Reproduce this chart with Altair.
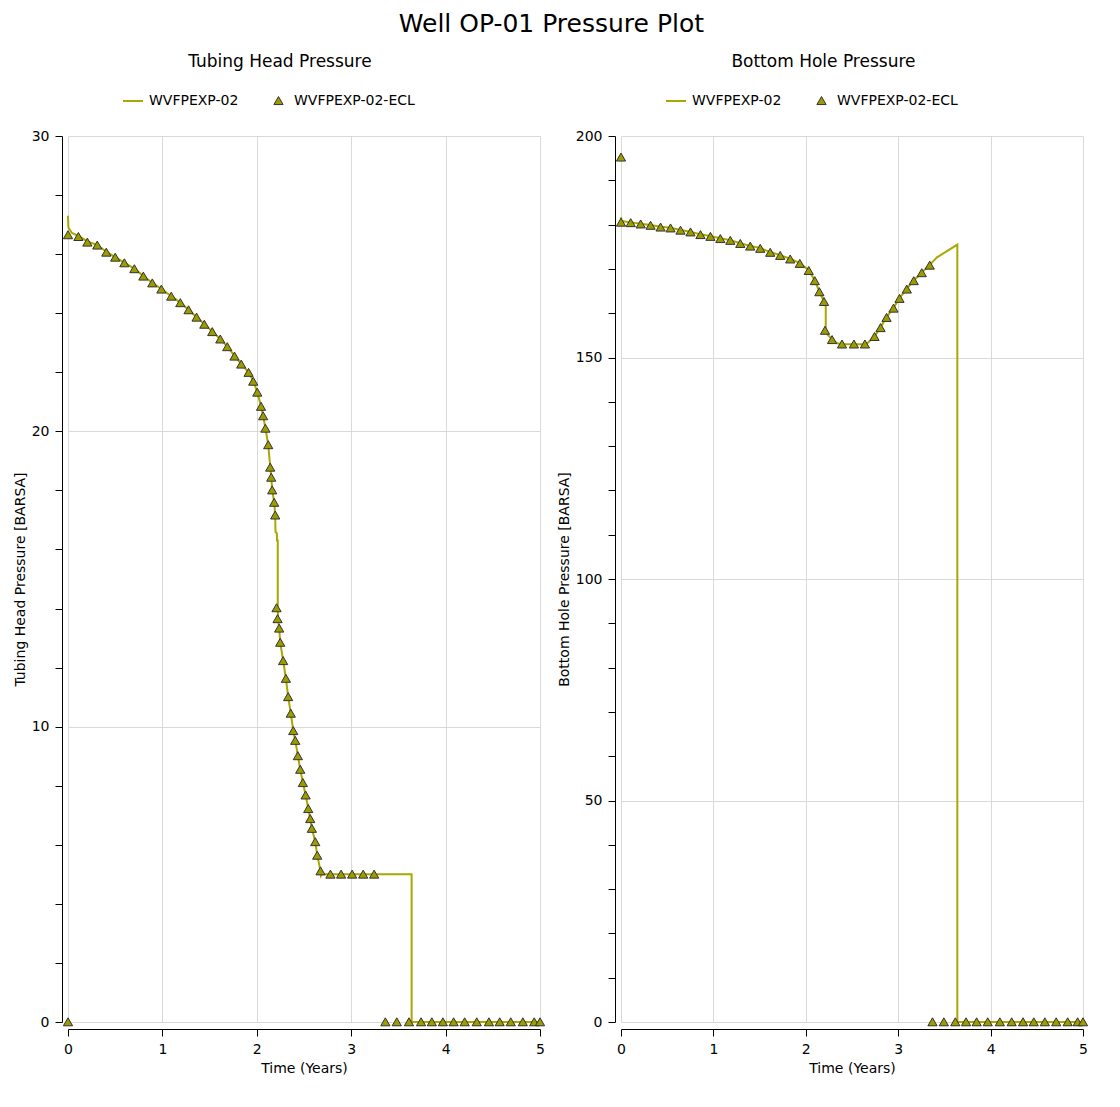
import altair as alt
import pandas as pd

FONT = "DejaVu Sans"
LINE_COLOR = "#a8a800"
MARK_FILL = "#9c9c00"
MARK_STROKE = "#333333"
GRID_COLOR = "#d9d9d9"

LINE_NAME = "WVFPEXP-02"
ECL_NAME = "WVFPEXP-02-ECL"
SERIES = [LINE_NAME, ECL_NAME]
# small up-triangle drawn inside the unit square of the symbol
TRIANGLE = "M0,-0.42L0.46,0.38L-0.46,0.38Z"

CHART_TITLE = "Well OP-01 Pressure Plot"
X_TITLE = "Time (Years)"
X_TICKS = [0, 0.5, 1, 1.5, 2, 2.5, 3, 3.5, 4, 4.5, 5]

# ---------------- Tubing Head Pressure ----------------
THP_TITLE = "Tubing Head Pressure"
THP_Y_TITLE = "Tubing Head Pressure [BARSA]"
THP_Y_TICKS = list(range(0, 31, 1))
THP_Y_MAJOR = 5

thp_line_t = [0, 0.004, 0.04, 0.11, 0.205, 0.31, 0.406, 0.5, 0.597, 0.703, 0.798, 0.893,
              0.989, 1.094, 1.19, 1.277, 1.362, 1.444, 1.528, 1.613, 1.687, 1.764, 1.835,
              1.913, 1.962, 2.005, 2.045, 2.067, 2.091, 2.121, 2.142, 2.153, 2.163, 2.184,
              2.195, 2.198, 2.212, 2.214, 2.222, 2.222, 2.224, 2.237, 2.248, 2.279, 2.308,
              2.332, 2.36, 2.386, 2.407, 2.435, 2.46, 2.488, 2.517, 2.545, 2.566, 2.583,
              2.619, 2.64, 2.675, 2.68, 2.69, 3.64, 3.64, 5.0]
thp_line_p = [27.3, 26.9, 26.72, 26.62, 26.43, 26.31, 26.08, 25.9, 25.71, 25.51, 25.26, 25.03,
              24.82, 24.58, 24.36, 24.12, 23.87, 23.63, 23.38, 23.13, 22.87, 22.56, 22.28,
              22.0, 21.7, 21.33, 20.85, 20.53, 20.11, 19.55, 18.8, 18.45, 18.02, 17.6,
              17.17, 16.6, 16.55, 16.3, 16.3, 14.05, 13.66, 13.34, 12.86, 12.24, 11.64,
              11.02, 10.46, 9.87, 9.54, 9.02, 8.56, 8.11, 7.69, 7.23, 6.89, 6.56,
              6.11, 5.65, 5.12, 4.95, 5.0, 5.0, 0.0, 0.0]

thp_ecl_t = [0, 0.11, 0.205, 0.31, 0.406, 0.5, 0.597, 0.703, 0.798, 0.893, 0.989, 1.094,
             1.19, 1.277, 1.362, 1.444, 1.528, 1.613, 1.687, 1.764, 1.835, 1.913, 1.962,
             2.005, 2.045, 2.067, 2.091, 2.121, 2.142, 2.153, 2.163, 2.184, 2.195, 2.209,
             2.22, 2.237, 2.248, 2.279, 2.308, 2.332, 2.36, 2.386, 2.407, 2.435, 2.46,
             2.488, 2.517, 2.545, 2.566, 2.583, 2.619, 2.64, 2.675, 2.78, 2.893, 3.01,
             3.127, 3.243,
             0, 3.362, 3.483, 3.612, 3.74, 3.854, 3.971, 4.085, 4.202, 4.33, 4.459, 4.573,
             4.69, 4.818, 4.939, 5.0]
thp_ecl_p = [26.65, 26.59, 26.4, 26.3, 26.06, 25.89, 25.7, 25.5, 25.25, 25.02, 24.81, 24.57,
             24.35, 24.11, 23.86, 23.62, 23.37, 23.12, 22.86, 22.54, 22.27, 21.99, 21.69,
             21.32, 20.84, 20.52, 20.1, 19.54, 18.78, 18.44, 18.01, 17.59, 17.16, 14.02,
             13.65, 13.33, 12.85, 12.23, 11.63, 11.01, 10.45, 9.86, 9.53, 9.01, 8.55,
             8.1, 7.68, 7.22, 6.88, 6.55, 6.1, 5.64, 5.11, 5.0, 5.0, 5.0,
             5.0, 5.0,
             0, 0, 0, 0, 0, 0, 0, 0, 0, 0, 0, 0,
             0, 0, 0, 0]

# ---------------- Bottom Hole Pressure ----------------
BHP_TITLE = "Bottom Hole Pressure"
BHP_Y_TITLE = "Bottom Hole Pressure [BARSA]"
BHP_Y_TICKS = list(range(0, 201, 10))
BHP_Y_MAJOR = 50

bhp_line_t = [0, 0.005, 0.04, 0.105, 0.213, 0.32, 0.428, 0.536, 0.644, 0.752, 0.86, 0.968,
              1.075, 1.183, 1.291, 1.399, 1.507, 1.615, 1.723, 1.831, 1.935, 2.032, 2.097,
              2.147, 2.197, 2.216, 2.216, 2.23, 2.284, 2.34, 2.392, 2.655, 2.744, 2.809,
              2.874, 2.949, 3.014, 3.093, 3.168, 3.255, 3.341, 3.42, 3.64, 3.64, 5.0]
bhp_line_p = [181.7, 180.9, 180.7, 180.5, 180.2, 179.9, 179.5, 179.3, 178.8, 178.4, 177.8,
              177.4, 176.9, 176.5, 175.8, 175.2, 174.7, 173.8, 173.1, 172.3, 171.3, 169.7,
              167.4, 164.9, 162.7, 161.5, 156.3, 155.3, 154.1, 153.2, 153.0, 153.0, 154.8,
              156.8, 159.1, 161.2, 163.4, 165.5, 167.4, 169.2, 170.9, 172.6, 175.5, 0.0, 0.0]

bhp_ecl_t = [0, 0, 0.105, 0.213, 0.32, 0.428, 0.536, 0.644, 0.752, 0.86, 0.968, 1.075,
             1.183, 1.291, 1.399, 1.507, 1.615, 1.723, 1.831, 1.935, 2.032, 2.097, 2.147,
             2.197, 2.208, 2.284, 2.392, 2.521, 2.64, 2.744, 2.809, 2.874, 2.949, 3.014,
             3.093, 3.168, 3.255, 3.341,
             3.371, 3.494, 3.618, 3.734, 3.849, 3.969, 4.1, 4.228, 4.351, 4.467, 4.587,
             4.71, 4.834, 4.942, 5.0]
bhp_ecl_p = [195.2, 180.5, 180.4, 180.1, 179.8, 179.4, 179.2, 178.7, 178.3, 177.7, 177.3,
             176.8, 176.4, 175.7, 175.1, 174.6, 173.7, 173.0, 172.2, 171.2, 169.6, 167.3,
             164.8, 162.6, 156.1, 154.0, 153.0, 153.0, 153.0, 154.7, 156.7, 159.0, 161.1,
             163.3, 165.4, 167.3, 169.1, 170.8,
             0, 0, 0, 0, 0, 0, 0, 0, 0, 0, 0,
             0, 0, 0, 0]


def panel(title, y_title, line_t, line_p, ecl_t, ecl_p, y_ticks, y_major, width, height,
          legend_x):
    line_df = pd.DataFrame({"t": line_t, "p": line_p, "i": list(range(len(line_t)))})
    ecl_df = pd.DataFrame({"t": ecl_t, "p": ecl_p, "series": [ECL_NAME] * len(ecl_t)})
    y_max = y_ticks[-1]

    x_enc = alt.X(
        "t:Q",
        scale=alt.Scale(domain=[X_TICKS[0], X_TICKS[-1]], nice=False, zero=False),
        axis=alt.Axis(
            title=X_TITLE,
            values=X_TICKS,
            labelExpr="datum.value % 1 === 0 ? datum.label : ''",
            format="d",
            gridOpacity={"condition": {"test": "datum.value % 1 === 0", "value": 1}, "value": 0},
            offset=7,
            labelOverlap=False,
            labelFlush=False,
            labelPadding=6,
            titlePadding=5,
        ),
    )
    y_enc = alt.Y(
        "p:Q",
        scale=alt.Scale(domain=[y_ticks[0], y_max], nice=False),
        axis=alt.Axis(
            title=y_title,
            values=y_ticks,
            labelExpr=f"datum.value % {y_major} === 0 ? datum.label : ''",
            gridOpacity={"condition": {"test": f"datum.value % {y_major} === 0", "value": 1},
                         "value": 0},
            offset=6,
            labelOverlap=False,
            labelFlush=False,
            labelPadding=6,
            titlePadding=4,
        ),
    )

    line = alt.Chart(line_df).mark_line(color=LINE_COLOR, strokeWidth=2).encode(
        x=x_enc, y=y_enc, order=alt.Order("i:Q")
    )

    leg = alt.Legend(
        orient="none",
        legendX=legend_x,
        legendY=-46,
        direction="horizontal",
        title=None,
        labelFont=FONT,
        labelFontSize=14,
        labelColor="black",
        labelOffset=5,
        columnPadding=29,
        padding=0,
        symbolSize=400,
    )
    pts = alt.Chart(ecl_df).mark_point(
        filled=True, fill=MARK_FILL, opacity=1, size=400
    ).encode(
        x=alt.X("t:Q"),
        y=alt.Y("p:Q"),
        shape=alt.Shape("series:N",
                        scale=alt.Scale(domain=SERIES, range=["stroke", TRIANGLE]),
                        legend=leg),
        stroke=alt.Stroke("series:N",
                          scale=alt.Scale(domain=SERIES, range=[LINE_COLOR, MARK_STROKE]),
                          legend=leg),
        strokeWidth=alt.StrokeWidth("series:N",
                                    scale=alt.Scale(type="ordinal", domain=SERIES,
                                                    range=[2, 1]),
                                    legend=leg),
    )

    return alt.layer(line, pts).properties(
        width=width,
        height=height,
        title=alt.TitleParams(title, fontSize=17, font=FONT, fontWeight="normal",
                              anchor="middle", frame="bounds", offset=19, color="black"),
    )


left = panel(THP_TITLE, THP_Y_TITLE, thp_line_t, thp_line_p, thp_ecl_t, thp_ecl_p,
             THP_Y_TICKS, THP_Y_MAJOR, 472, 886, 54)
right = panel(BHP_TITLE, BHP_Y_TITLE, bhp_line_t, bhp_line_p, bhp_ecl_t, bhp_ecl_p,
              BHP_Y_TICKS, BHP_Y_MAJOR, 462, 886, 44)

chart = (
    alt.hconcat(left, right, spacing=10)
    .resolve_scale(shape="independent", stroke="independent", strokeWidth="independent")
    .properties(
        title=alt.TitleParams(CHART_TITLE, fontSize=25, font=FONT, fontWeight="normal",
                              anchor="middle", offset=16, color="black"),
        padding={"left": 5, "right": 5, "top": 4, "bottom": 5},
        background="white",
    )
    .configure_view(stroke=None)
    .configure_axis(
        domainColor="black",
        tickColor="black",
        labelColor="black",
        titleColor="black",
        gridColor=GRID_COLOR,
        labelFont=FONT,
        titleFont=FONT,
        labelFontSize=14,
        titleFontSize=14,
        titleFontWeight="normal",
        tickSize=7,
    )
)

chart.save("out.html", embed_options={"renderer": "svg", "actions": False})
